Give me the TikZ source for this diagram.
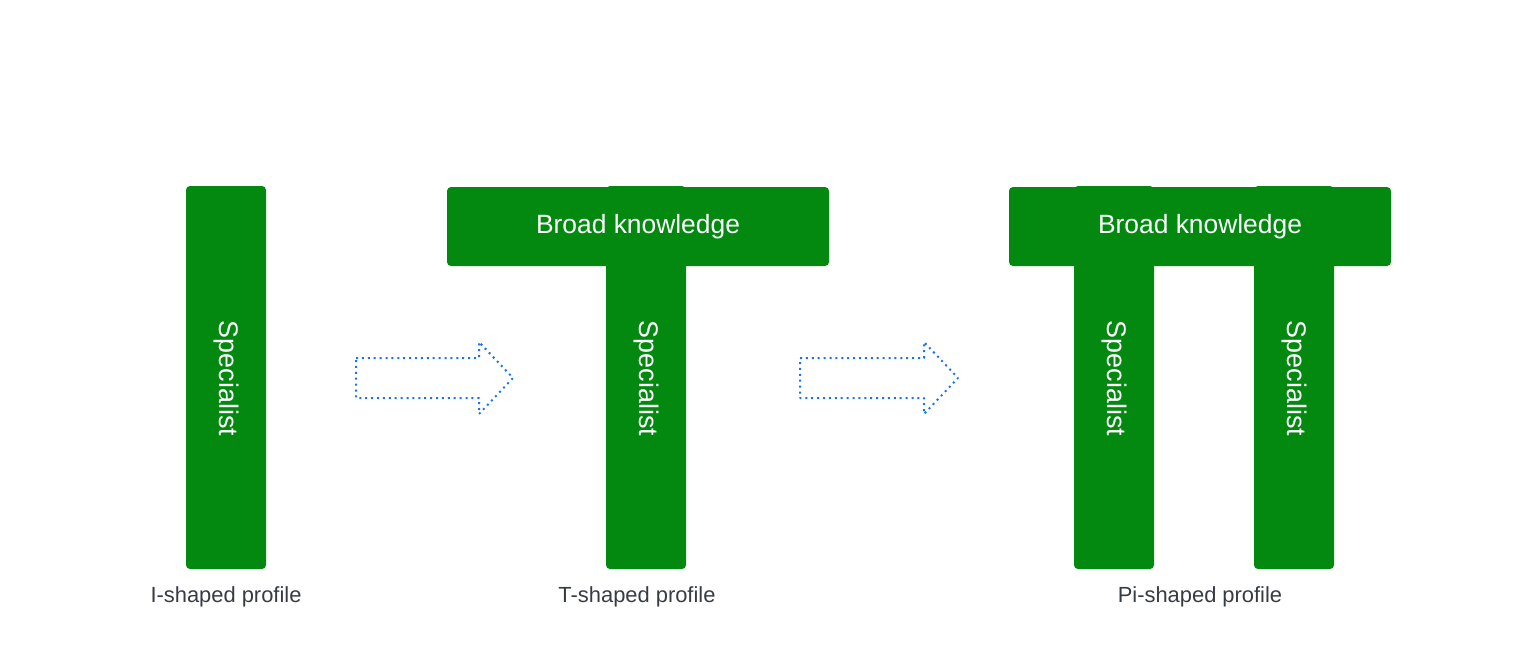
\documentclass[tikz,border=0pt]{standalone}
\usepackage{fontspec}
\setmainfont{Liberation Sans}
\definecolor{barg}{RGB}{3,137,16}
\definecolor{arrb}{RGB}{26,115,232}
\definecolor{lblc}{RGB}{55,60,68}
\begin{document}
\begin{tikzpicture}[x=1pt,y=-1pt,
  bar/.style={fill=barg,draw=none,rounded corners=4pt,inner sep=0pt},
  vbar/.style={bar,minimum width=80pt,minimum height=383pt},
  hbar/.style={bar,minimum width=382pt,minimum height=79pt},
  bartext/.style={text=white,font=\fontsize{26.4}{30}\selectfont},
  spec/.style={text=white,font=\fontsize{26.9}{30}\selectfont,rotate=-90},
  lbl/.style={text=lblc,font=\fontsize{21.9}{26}\selectfont},
  arrowshape/.style={draw=arrb,line width=2pt,dash pattern=on 2pt off 3.9pt,line join=round}
]
\useasboundingbox (0,0) rectangle (1521,669);
% I-shaped
\node[vbar] (i1) at (226,377.5) {};
\node[spec] (i1t) at (226.5,378.5) {Specialist};
\node[lbl] (il) at (226,597) {I-shaped profile};
% T-shaped
\node[vbar] (t1) at (646,377.5) {};
\node[hbar] (th) at (638,226.5) {};
\node[bartext] (tht) at (th.center) {Broad knowledge};
\node[spec] (t1t) at (646.5,378.5) {Specialist};
\node[lbl] (tl) at (637,597) {T-shaped profile};
% Pi-shaped
\node[vbar] (p1) at (1114,377.5) {};
\node[vbar] (p2) at (1294,377.5) {};
\node[hbar] (ph) at (1200,226.5) {};
\node[bartext] (pht) at (ph.center) {Broad knowledge};
\node[spec] (p1t) at (1114.5,378.5) {Specialist};
\node[spec] (p2t) at (1294.5,378.5) {Specialist};
\node[lbl] (pl) at (1200,597) {Pi-shaped profile};
% arrows
\coordinate (a1) at (356,358);
\draw[arrowshape] (a1) -- ++(123,0) -- ++(0,-16) -- ++(34,36) -- ++(-34,36) -- ++(0,-16) -- ++(-123,0) -- cycle;
\coordinate (a2) at (800,358);
\draw[arrowshape] (a2) -- ++(124,0) -- ++(0,-16) -- ++(34,36) -- ++(-34,36) -- ++(0,-16) -- ++(-124,0) -- cycle;
\end{tikzpicture}
\end{document}
